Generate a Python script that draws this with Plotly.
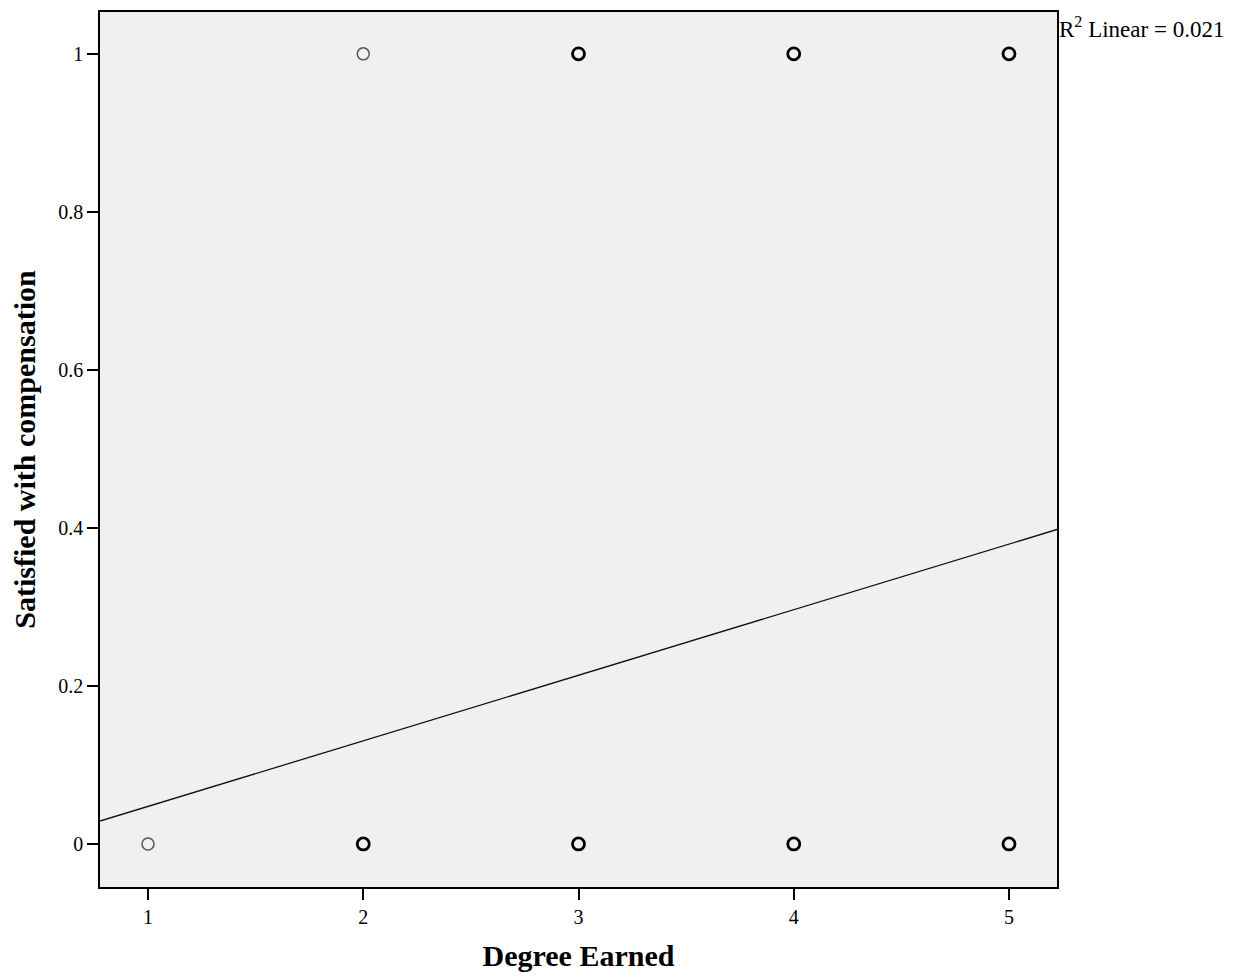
import plotly.graph_objects as go

# Observations: degree earned vs. satisfaction (0/1), with number of cases per point
degree = [1, 2, 2, 3, 3, 4, 4, 5, 5]
satisfied = [0, 0, 1, 0, 1, 0, 1, 0, 1]
n_cases = [1, 2, 1, 4, 4, 4, 4, 3, 3]

# Linear fit line
fit_intercept = -0.0355
fit_slope = 0.083
r_squared = 0.021

x_range = [0.777, 5.223]
y_range = [-0.0545, 1.053]

font_family = "Liberation Serif"

line_widths = [1.5 if n == 1 else 2.8 for n in n_cases]
line_colors = ["#555555" if n == 1 else "#000000" for n in n_cases]

fig = go.Figure()
fig.add_trace(go.Scatter(
    x=degree, y=satisfied, mode="markers",
    marker=dict(symbol="circle-open", size=12,
                color=line_colors,
                line=dict(width=line_widths, color=line_colors)),
    showlegend=False, hoverinfo="x+y",
))
fig.add_trace(go.Scatter(
    x=x_range,
    y=[fit_intercept + fit_slope * v for v in x_range],
    mode="lines", line=dict(color="#111111", width=1.3),
    showlegend=False, hoverinfo="skip",
))

fig.add_annotation(
    xref="paper", yref="paper", x=1.0, y=1.0, xanchor="left", yanchor="top",
    xshift=0, yshift=1,
    text=f"R<sup>2</sup> Linear = {r_squared:.3f}", showarrow=False,
    font=dict(family=font_family, size=23, color="#000000"),
)

axis_common = dict(
    showgrid=False, zeroline=False, showline=True, linecolor="#000000",
    linewidth=1.5, mirror=True, ticks="outside", ticklen=11, tickwidth=1.5,
    tickcolor="#000000", tickfont=dict(family=font_family, size=20, color="#000000"),
)

fig.update_layout(
    width=1246, height=979,
    margin=dict(l=100, r=189, t=10, b=92),
    paper_bgcolor="#ffffff", plot_bgcolor="#f0f0f0",
    font=dict(family=font_family, color="#000000"),
    xaxis=dict(range=x_range, tickvals=[1, 2, 3, 4, 5],
               title=dict(text="<b>Degree Earned</b>", font=dict(family=font_family, size=30), standoff=18),
               **axis_common),
    yaxis=dict(range=y_range, tickvals=[0, 0.2, 0.4, 0.6, 0.8, 1],
               ticktext=["0", "0.2", "0.4", "0.6", "0.8", "1"],
               title=dict(text="<b>Satisfied with compensation</b>", font=dict(family=font_family, size=30), standoff=14),
               **axis_common),
)

fig.write_html("out.html")
